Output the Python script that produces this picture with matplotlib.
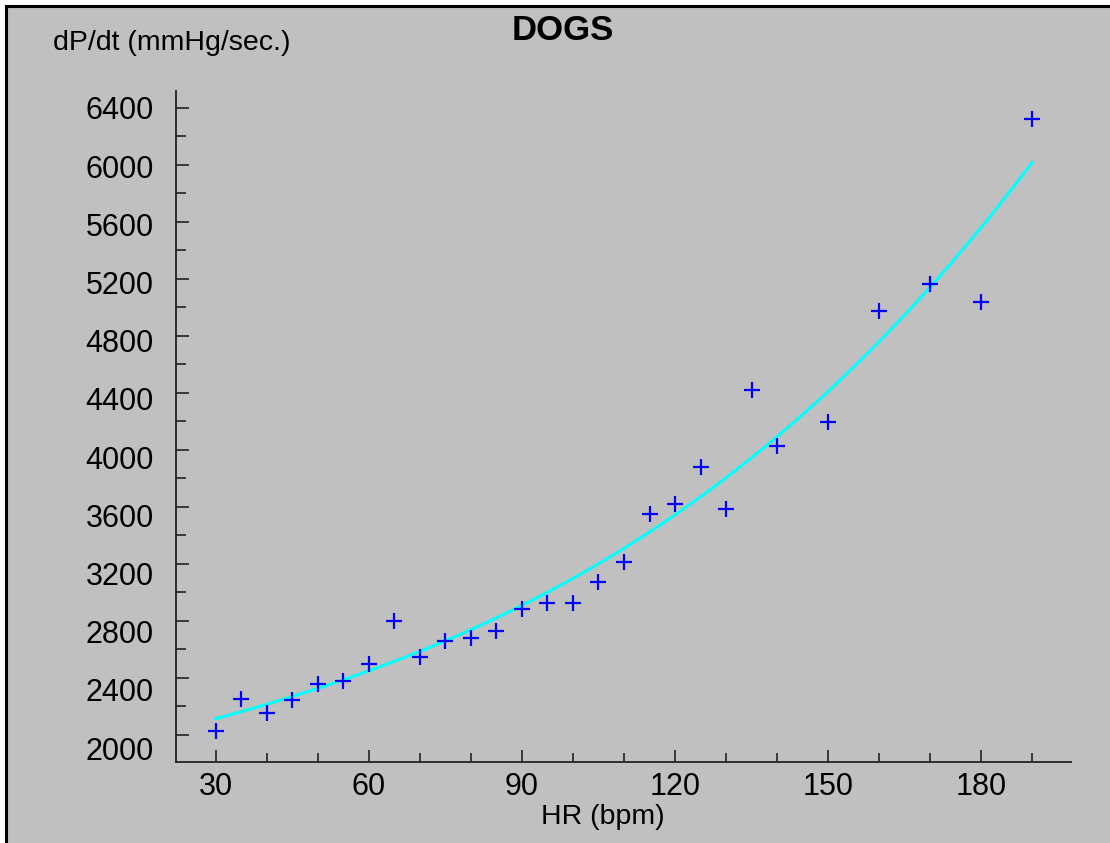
import matplotlib.pyplot as plt
import matplotlib.transforms as mtransforms
from matplotlib.lines import Line2D
from matplotlib.patches import Rectangle
import numpy as np

plt.rcParams['font.family'] = ['Liberation Sans', 'DejaVu Sans']

# heart rate vs. peak dP/dt
hr = [30, 35, 40, 45, 50, 55, 60, 65, 70, 75, 80, 85, 90, 95, 100,
      105, 110, 115, 120, 125, 130, 135, 140, 150, 160, 170, 180, 190]
dpdt = [2030, 2253, 2154, 2246, 2358, 2379, 2498, 2800, 2547, 2660, 2681, 2730, 2884, 2926, 2926,
        3074, 3214, 3551, 3621, 3881, 3586, 4421, 4028, 4196, 4975, 5165, 5039, 6323]

y_ticks = [2000, 2400, 2800, 3200, 3600, 4000, 4400, 4800, 5200, 5600, 6000, 6400]
x_ticks = [30, 60, 90, 120, 150, 180]

W, H, DPI = 1110, 843, 100
fig = plt.figure(figsize=(W / DPI, H / DPI), dpi=DPI, facecolor='white')

# gray panel with a dark edge on top and left
fig.patches.append(Rectangle((6 / W, 0), 1, 1 - 6 / H, transform=fig.transFigure,
                             facecolor='#c0c0c0', edgecolor='none', zorder=-10))
fig.lines.append(Line2D([6 / W, 1], [1 - 6 / H, 1 - 6 / H], transform=fig.transFigure,
                        color='black', lw=2.2, zorder=-5))
fig.lines.append(Line2D([6 / W, 6 / W], [0, 1 - 6 / H], transform=fig.transFigure,
                        color='black', lw=2.2, zorder=-5))

ax = fig.add_axes([176 / W, 1 - 762 / H, (1071 - 176) / W, (762 - 91) / H])
ax.set_facecolor('none')

# regression curve (cubic least squares)
coef = np.polyfit(hr, dpdt, 3)
xs = np.linspace(min(hr), max(hr), 200)
ax.plot(xs, np.polyval(coef, xs), color='#00ffff', lw=2.2, zorder=2)
ax.plot(hr, dpdt, linestyle='none', marker='+', markersize=11, mew=1.6,
        color='#0000ff', zorder=3)

ax.set_xlim(22.2, 197.6)
ax.set_ylim(1810, 6519)

for s in ['top', 'right']:
    ax.spines[s].set_visible(False)
for s in ['left', 'bottom']:
    ax.spines[s].set_color('#222222')
    ax.spines[s].set_linewidth(1.3)

ax.set_xticks(x_ticks)
ax.set_xticks(np.arange(30, 191, 10), minor=True)
ax.set_yticks(y_ticks)
ax.set_yticks(np.arange(2200, 6400, 400), minor=True)

ax.tick_params(axis='y', which='major', direction='in', length=9.4, width=1.2,
               color='#222222', labelsize=22, pad=16)
ax.tick_params(axis='y', which='minor', direction='in', length=7.2, width=1.2,
               color='#222222')
ax.tick_params(axis='x', which='major', direction='in', length=8.6, width=1.2,
               color='#222222', labelsize=22, pad=7)
ax.tick_params(axis='x', which='minor', direction='in', length=6.5, width=1.2,
               color='#222222')

# y labels drift slightly downward relative to their ticks
for lbl, v in zip(ax.get_yticklabels(), y_ticks):
    dy = -(6400 - v) / 400 * 1.2 / DPI
    lbl.set_transform(lbl.get_transform() + mtransforms.ScaledTranslation(0, dy, fig.dpi_scale_trans))

fig.text(563 / W, 1 - 30 / H, 'DOGS', ha='center', va='center', fontsize=25, fontweight='bold')
fig.text(53 / W, 1 - 43 / H, 'dP/dt (mmHg/sec.)', ha='left', va='center', fontsize=20.5)
fig.text(603 / W, 1 - 817 / H, 'HR (bpm)', ha='center', va='center', fontsize=20.5)

fig.savefig('out.png', dpi=DPI, facecolor=fig.get_facecolor())
